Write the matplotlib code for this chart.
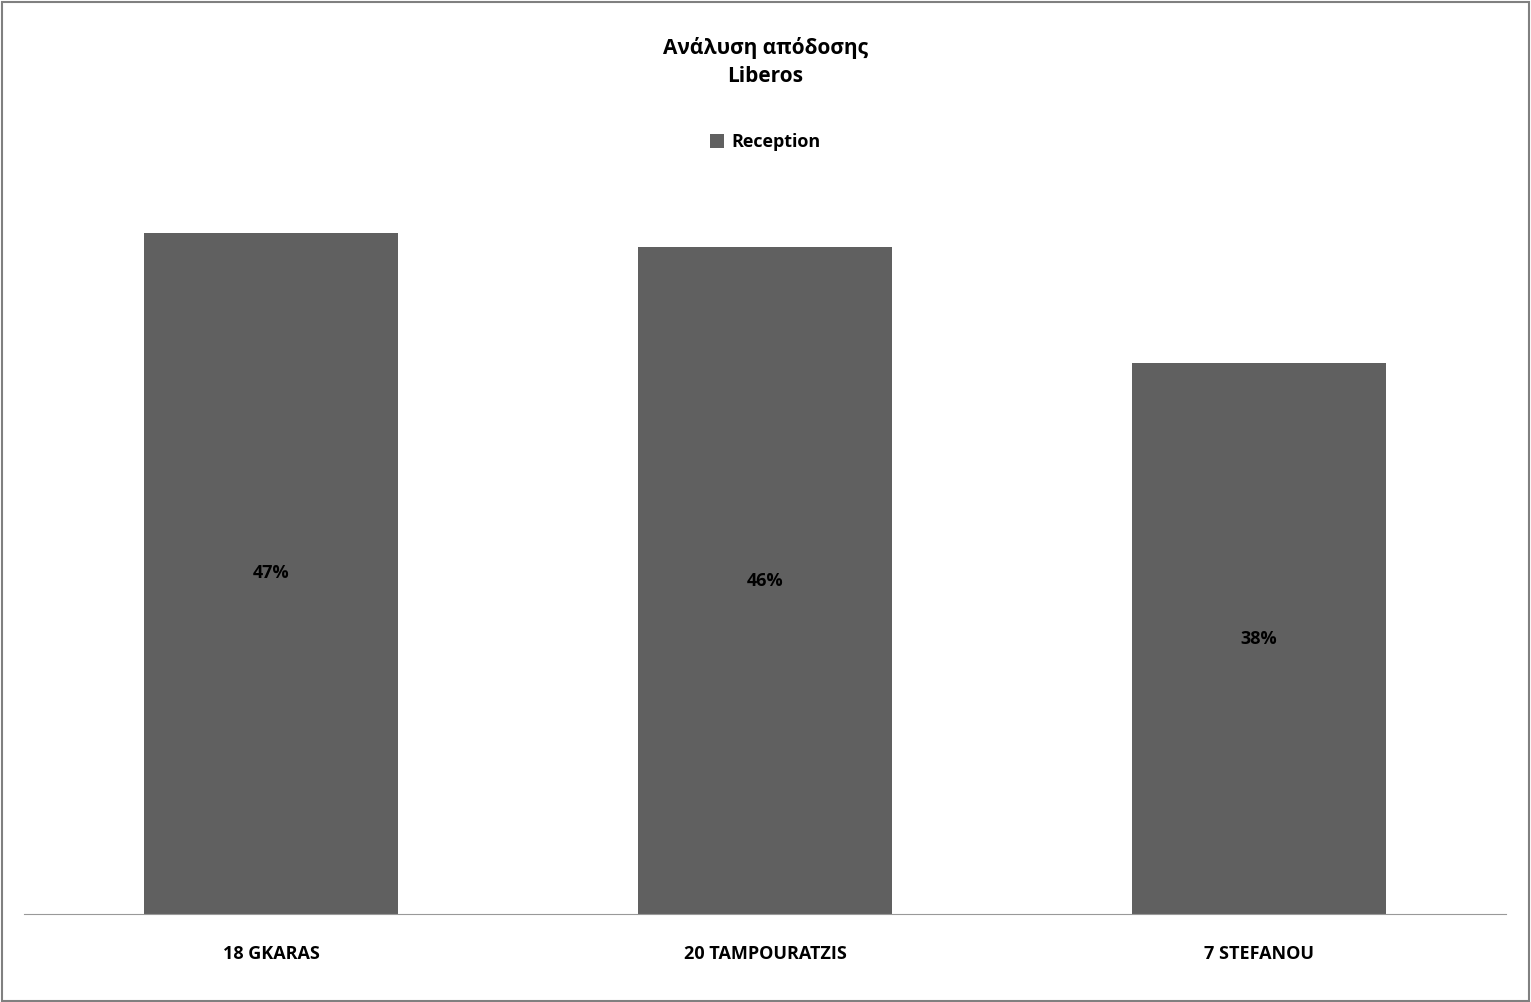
import matplotlib
matplotlib.use("Agg")
import matplotlib.pyplot as plt
from matplotlib.patches import Rectangle

categories = ["18 GKARAS", "20 TAMPOURATZIS", "7 STEFANOU"]
values = [47, 46, 38]
labels = ["47%", "46%", "38%"]

plt.rcParams['font.family'] = ['Open Sans', 'DejaVu Sans']
fig = plt.figure(figsize=(15.31, 10.02), dpi=100)
fig.patches.append(Rectangle((0.001, 0.001), 0.998, 0.997, transform=fig.transFigure,
                             fill=False, edgecolor='#808080', linewidth=1.5))
ax = fig.add_axes([24/1531, 1-914/1002, 1482/1531, (914-189)/1002])
x = range(len(categories))
bars = ax.bar(x, values, width=0.513, color='#606060', label='Reception')
for b, v, l in zip(bars, values, labels):
    ax.text(b.get_x()+b.get_width()/2, v/2, l, ha='center', va='center',
            fontsize=13, fontweight='bold', color='black')
ax.set_xlim(-0.5, 2.5)
ax.set_ylim(0, 50)
ax.set_yticks([])
ax.set_xticks(list(x))
ax.set_xticklabels(categories, fontsize=13, fontweight='bold')
ax.tick_params(axis='x', length=0, pad=22)
for s in ['top', 'right', 'left']:
    ax.spines[s].set_visible(False)
ax.spines['bottom'].set_color('#999999')
fig.text(0.5, 1-62/1002, "Ανάλυση απόδοσης\nLiberos", ha='center', va='center',
         fontsize=15, fontweight='bold', linespacing=1.4)
fig.legend(loc='center', bbox_to_anchor=(0.5, 1-142/1002), frameon=False,
           prop={'size': 13, 'weight': 'bold'}, handlelength=0.8, handleheight=0.8,
           handletextpad=0.4)
fig.savefig("out.png", dpi=100)
